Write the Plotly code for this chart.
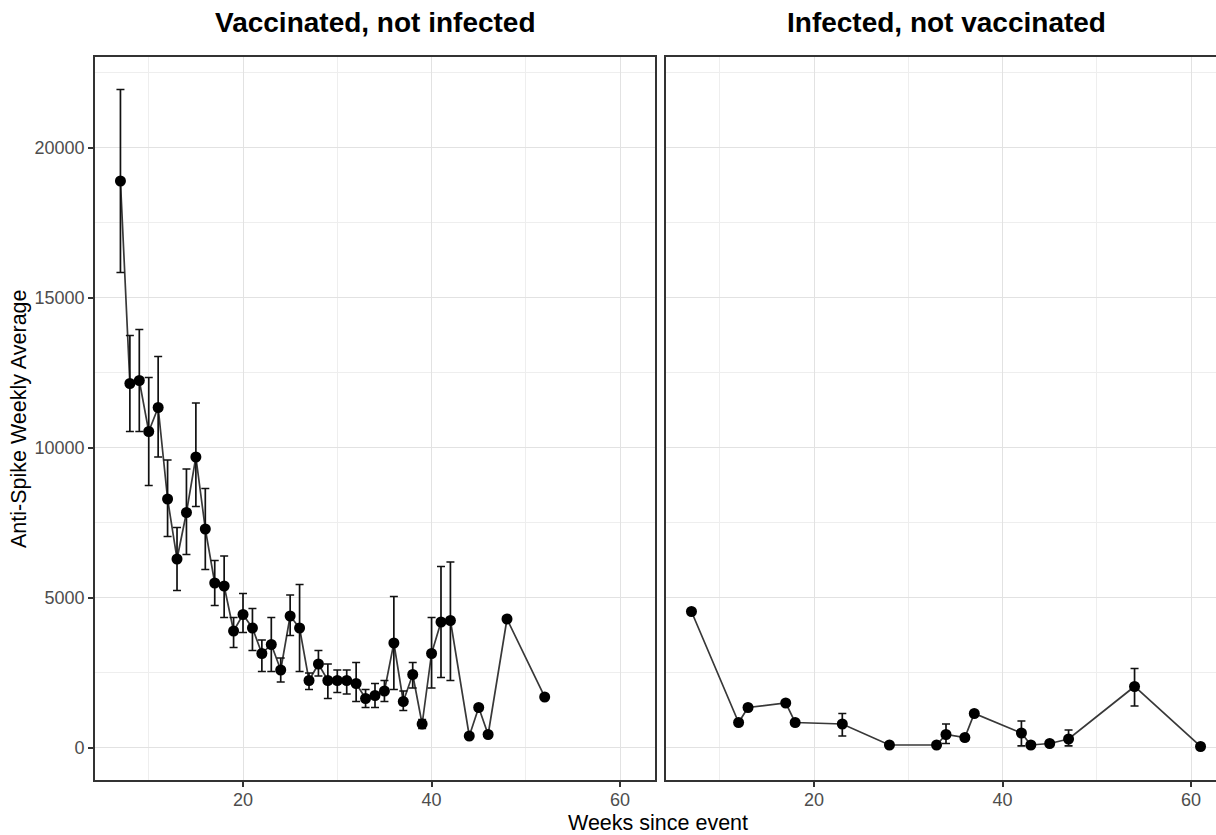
import numpy as np
import plotly.graph_objects as go

# Vaccinated, not infected: weekly mean with upper / lower error limits
vacc_weeks = [7, 8, 9, 10, 11, 12, 13, 14, 15, 16, 17, 18, 19, 20, 21, 22, 23, 24, 25, 26,
              27, 28, 29, 30, 31, 32, 33, 34, 35, 36, 37, 38, 39, 40, 41, 42, 44, 45, 46, 48, 52]
vacc_mean = [18900, 12150, 12250, 10550, 11350, 8300, 6300, 7850, 9700, 7300, 5500, 5400, 3900,
             4450, 4000, 3150, 3450, 2600, 4400, 4000, 2250, 2800, 2250, 2250, 2250, 2150, 1650,
             1750, 1900, 3500, 1550, 2450, 800, 3150, 4200, 4250, 400, 1350, 450, 4300, 1700]
vacc_upper = [21950, 13750, 13950, 12350, 13050, 9600, 7350, 9300, 11500, 8650, 6250, 6400, 4350,
              5150, 4650, 3600, 4350, 3000, 5100, 5450, 2500, 3250, 2800, 2600, 2600, 2850, 1950,
              2150, 2250, 5050, 1900, 2850, 950, 4350, 6050, 6200,
              None, None, None, None, None]
vacc_lower = [15850, 10550, 10550, 8750, 9700, 7050, 5250, 6450, 8050, 5950, 4750, 4350, 3350,
              3850, 3250, 2550, 2550, 2200, 3750, 2550, 1950, 2400, 1650, 1850, 1800, 1550, 1350,
              1350, 1550, 1950, 1250, 2000, 650, 2000, 2350, 2250,
              None, None, None, None, None]

# Infected, not vaccinated
inf_weeks = [7, 12, 13, 17, 18, 23, 28, 33, 34, 36, 37, 42, 43, 45, 47, 54, 61]
inf_mean = [4550, 850, 1350, 1500, 850, 800, 100, 100, 450, 350, 1150, 500, 100, 150, 300, 2050, 50]
inf_upper = [None, None, None, None, None, 1150, None, None, 800, None, None, 900, None, None, 600, 2650, None]
inf_lower = [None, None, None, None, None, 400, None, None, 150, None, None, 70, None, None, 70, 1400, None]

panel_titles = ["Vaccinated, not infected", "Infected, not vaccinated"]
x_ticks = [20, 40, 60]
x_minor = [10, 30, 50]
y_ticks = [0, 5000, 10000, 15000, 20000]
y_minor = [2500, 7500, 12500, 17500, 22500]

FONT = "Liberation Sans, Arial, sans-serif"
W, H = 1216, 835


def err(mean, upper, lower):
    m = np.array(mean, dtype=float)
    up = np.array([np.nan if v is None else v for v in upper], dtype=float) - m
    lo = m - np.array([np.nan if v is None else v for v in lower], dtype=float)
    return up, lo


fig = go.Figure()
for xs, ys, ups, los, xa, ya in [
    (vacc_weeks, vacc_mean, vacc_upper, vacc_lower, "x", "y"),
    (inf_weeks, inf_mean, inf_upper, inf_lower, "x2", "y2"),
]:
    e_up, e_lo = err(ys, ups, los)
    fig.add_trace(go.Scatter(
        x=xs, y=ys, xaxis=xa, yaxis=ya, mode="lines",
        line=dict(color="#383838", width=1.7), hoverinfo="skip", showlegend=False))
    fig.add_trace(go.Scatter(
        x=xs, y=ys, xaxis=xa, yaxis=ya, mode="markers",
        marker=dict(color="black", size=11),
        error_y=dict(type="data", array=e_up, arrayminus=e_lo, symmetric=False,
                     color="#111111", thickness=1.7, width=4),
        showlegend=False))

grid_major = "#e2e2e2"
grid_minor = "#eeeeee"
border = "#333333"
tick_font = dict(family=FONT, size=18, color="#4d4d4d")

x_range = [4.3, 63.7]
px_per_week = (655 - 95) / (x_range[1] - x_range[0])
y_dom = [(H - 780) / H, (H - 57) / H]
y_range = [-1067, 23033]

common_x = dict(
    tickvals=x_ticks, ticktext=[str(v) for v in x_ticks],
    minor=dict(tickvals=x_minor, showgrid=True, gridcolor=grid_minor, gridwidth=0.8, ticks=""),
    showgrid=True, gridcolor=grid_major, gridwidth=1.2, zeroline=False,
    showline=True, linecolor=border, linewidth=1.7, mirror=True,
    ticks="outside", ticklen=5, tickwidth=1.5, tickcolor=border,
    ticklabelstandoff=-2,
    tickfont=tick_font, fixedrange=True,
)
common_y = dict(
    range=y_range, domain=y_dom,
    tickvals=y_ticks, ticktext=[str(v) for v in y_ticks],
    minor=dict(tickvals=y_minor, showgrid=True, gridcolor=grid_minor, gridwidth=0.8, ticks=""),
    showgrid=True, gridcolor=grid_major, gridwidth=1.2, zeroline=False,
    showline=True, linecolor=border, linewidth=1.7,
    tickfont=tick_font, fixedrange=True,
)

fig.update_layout(
    width=W, height=H, margin=dict(l=0, r=0, t=0, b=0),
    paper_bgcolor="white", plot_bgcolor="white",
    xaxis=dict(domain=[95 / W, 655 / W], range=x_range, anchor="y", **common_x),
    yaxis=dict(anchor="x", mirror=True, ticks="outside", ticklen=5, tickwidth=1.5,
               tickcolor=border, **common_y),
    xaxis2=dict(domain=[666 / W, 1.0],
                range=[x_range[0], x_range[0] + (W - 666) / px_per_week],
                anchor="y2", **common_x),
    yaxis2=dict(anchor="x2", mirror=False, ticks="", showticklabels=False, **common_y),
)

annotations = [
    dict(text=f"<b>{panel_titles[0]}</b>", x=(95 + 655) / 2 / W, y=(H - 23) / H,
         xref="paper", yref="paper", showarrow=False, xanchor="center", yanchor="middle",
         font=dict(family=FONT, size=28, color="black")),
    dict(text=f"<b>{panel_titles[1]}</b>", x=(666 + 1226) / 2 / W, y=(H - 23) / H,
         xref="paper", yref="paper", showarrow=False, xanchor="center", yanchor="middle",
         font=dict(family=FONT, size=28, color="black")),
    dict(text="Weeks since event", x=658 / W, y=(H - 823) / H,
         xref="paper", yref="paper", showarrow=False, xanchor="center", yanchor="middle",
         font=dict(family=FONT, size=21.5, color="black")),
    dict(text="Anti-Spike Weekly Average", x=19 / W, y=(H - 419) / H, textangle=-90,
         xref="paper", yref="paper", showarrow=False, xanchor="center", yanchor="middle",
         font=dict(family=FONT, size=21.5, color="black")),
]
fig.update_layout(annotations=annotations)

fig.write_html("out.html")
